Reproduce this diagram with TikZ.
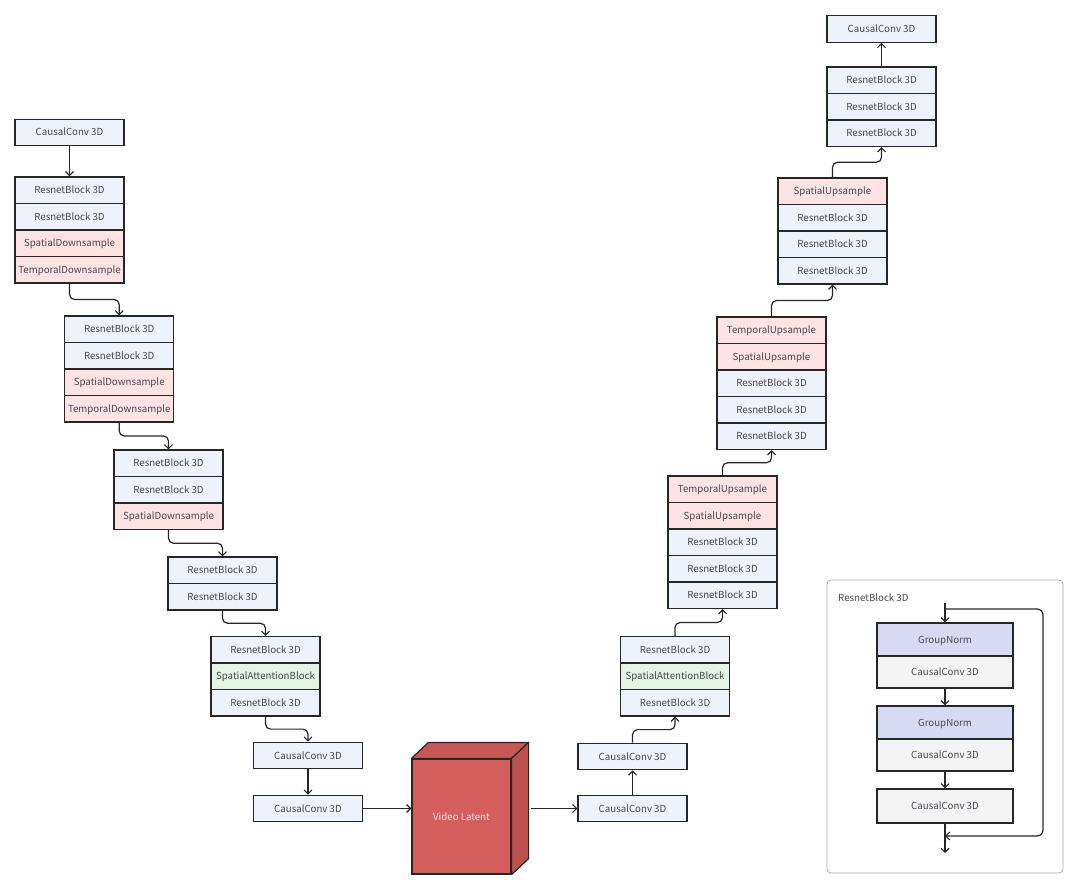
\documentclass[tikz,border=0pt]{standalone}
\usepackage{fontspec}
\setmainfont{Noto Sans CJK SC}
\usetikzlibrary{arrows.meta,calc}
\definecolor{lc}{HTML}{262626}
\definecolor{tc}{HTML}{45474F}
\definecolor{bfill}{HTML}{EEF2FB}
\definecolor{pfill}{HTML}{FDE3E3}
\definecolor{gfill}{HTML}{E3F4E4}
\definecolor{nfill}{HTML}{D6DBF3}
\definecolor{cfill}{HTML}{F4F4F4}
\definecolor{cubefront}{HTML}{D35E5B}
\definecolor{cubetop}{HTML}{C85855}
\definecolor{cubeside}{HTML}{BC524F}
\definecolor{framec}{HTML}{A8A8A8}
\begin{document}
\begin{tikzpicture}[x=1pt,y=-1pt,
  lbl/.style={font=\fontsize{9.7}{11}\selectfont, text=tc},
  row/.style={lbl, draw=lc, line width=1.1pt, minimum width=109pt, minimum height=26.5pt, inner sep=0pt,
    text height=7pt, text depth=0pt},
  blk/.style={row, fill=bfill},
  pk/.style={row, fill=pfill},
  gn/.style={row, fill=gfill},
  inrow/.style={row, minimum width=136pt},
  arr/.style={draw=lc, line width=1.2pt, -{Straight Barb[length=4pt,width=8pt]}},
  elb/.style={arr, rounded corners=5pt}]
\useasboundingbox (0,0) rectangle (1080,890);

% ---------- encoder ----------
\node[blk] (cc0) at (69.5,132.5) {CausalConv 3D};
\node[blk] (a1) at (69.5,190.25) {ResnetBlock 3D};
\node[blk] (a2) at (69.5,216.75) {ResnetBlock 3D};
\node[pk]  (a3) at (69.5,243.25) {SpatialDownsample};
\node[pk]  (a4) at (69.5,269.75) {TemporalDownsample};

\node[blk] (b1) at (119.2,329.25) {ResnetBlock 3D};
\node[blk] (b2) at (119.2,355.75) {ResnetBlock 3D};
\node[pk]  (b3) at (119.2,382.25) {SpatialDownsample};
\node[pk]  (b4) at (119.2,408.75) {TemporalDownsample};

\node[blk] (c1) at (168.5,463.25) {ResnetBlock 3D};
\node[blk] (c2) at (168.5,489.75) {ResnetBlock 3D};
\node[pk]  (c3) at (168.5,516.25) {SpatialDownsample};

\node[blk] (d1) at (222.5,570.25) {ResnetBlock 3D};
\node[blk] (d2) at (222.5,596.75) {ResnetBlock 3D};

\node[blk] (e1) at (265.5,649.75) {ResnetBlock 3D};
\node[gn]  (e2) at (265.5,676.25) {SpatialAttentionBlock};
\node[blk] (e3) at (265.5,702.75) {ResnetBlock 3D};

\node[blk] (cc1) at (308,755.5) {CausalConv 3D};
\node[blk] (cc2) at (308,808.5) {CausalConv 3D};

\draw[arr] (cc0.south) -- (a1.north);
\draw[elb] (a4.south) |- ($(a4.south)!.5!(b1.north)$) -| (b1.north);
\draw[elb] (b4.south) |- ($(b4.south)!.5!(c1.north)$) -| (c1.north);
\draw[elb] (c3.south) |- ($(c3.south)!.5!(d1.north)$) -| (d1.north);
\draw[elb] (d2.south) |- ($(d2.south)!.5!(e1.north)$) -| (e1.north);
\draw[elb] (e3.south) |- ($(e3.south)!.5!(cc1.north)$) -| (cc1.north);
\draw[arr] (cc1.south) -- (cc2.north);

% ---------- latent cube ----------
\node[lbl, draw=lc, line width=1.2pt, fill=cubefront, minimum width=99pt, minimum height=115pt, inner sep=0pt,
  text=pfill] (cube) at (461.5,816.5) {Video Latent};
\filldraw[fill=cubetop, draw=lc, line width=1.2pt, line join=round]
  (cube.north west) -- ++(17,-16) -- ($(cube.north east)+(17,-16)$) -- (cube.north east) -- cycle;
\filldraw[fill=cubeside, draw=lc, line width=1.2pt, line join=round]
  (cube.north east) -- ++(17,-16) -- ($(cube.south east)+(17,-16)$) -- (cube.south east) -- cycle;
\coordinate (cubeR) at ($(cube.east)+(19,0)$);

% ---------- decoder ----------
\node[blk] (ccr2) at (632.5,808.5) {CausalConv 3D};
\node[blk] (ccr1) at (632.5,756.5) {CausalConv 3D};

\node[blk] (f1) at (675,649.75) {ResnetBlock 3D};
\node[gn]  (f2) at (675,676.25) {SpatialAttentionBlock};
\node[blk] (f3) at (675,702.75) {ResnetBlock 3D};

\node[pk]  (g1) at (722.5,489.25) {TemporalUpsample};
\node[pk]  (g2) at (722.5,515.75) {SpatialUpsample};
\node[blk] (g3) at (722.5,542.25) {ResnetBlock 3D};
\node[blk] (g4) at (722.5,568.75) {ResnetBlock 3D};
\node[blk] (g5) at (722.5,595.25) {ResnetBlock 3D};

\node[pk]  (h1) at (771.5,330.25) {TemporalUpsample};
\node[pk]  (h2) at (771.5,356.75) {SpatialUpsample};
\node[blk] (h3) at (771.5,383.25) {ResnetBlock 3D};
\node[blk] (h4) at (771.5,409.75) {ResnetBlock 3D};
\node[blk] (h5) at (771.5,436.25) {ResnetBlock 3D};

\node[pk]  (i1) at (832.5,191.25) {SpatialUpsample};
\node[blk] (i2) at (832.5,217.75) {ResnetBlock 3D};
\node[blk] (i3) at (832.5,244.25) {ResnetBlock 3D};
\node[blk] (i4) at (832.5,270.75) {ResnetBlock 3D};

\node[blk] (j1) at (881.5,80.25) {ResnetBlock 3D};
\node[blk] (j2) at (881.5,106.75) {ResnetBlock 3D};
\node[blk] (j3) at (881.5,133.25) {ResnetBlock 3D};

\node[blk] (cct) at (881.5,29) {CausalConv 3D};

\draw[arr] (cc2.east) -- (cc2.east -| cube.west);
\draw[arr] (cubeR |- ccr2.west) -- (ccr2.west);
\draw[arr] (ccr2.north) -- (ccr1.south);
\draw[elb] (ccr1.north) |- ($(ccr1.north)!.5!(f3.south)$) -| (f3.south);
\draw[elb] (f1.north) |- ($(f1.north)!.5!(g5.south)$) -| (g5.south);
\draw[elb] (g1.north) |- ($(g1.north)!.5!(h5.south)$) -| (h5.south);
\draw[elb] (h1.north) |- ($(h1.north)!.5!(i4.south)$) -| (i4.south);
\draw[elb] (i1.north) |- ($(i1.north)!.5!(j3.south)$) -| (j3.south);
\draw[arr] (j1.north) -- (cct.south);

% ---------- inset ----------
\node[draw=framec, line width=0.8pt, rounded corners=4pt, minimum width=236pt, minimum height=293pt,
  inner sep=0pt] (frame) at (945,726.5) {};
\node[lbl, anchor=west, inner sep=0pt] (ftitle) at (838,598) {ResnetBlock 3D};

\node[inrow, fill=nfill, minimum height=33pt] (n1) at (945,639.5) {GroupNorm};
\node[inrow, fill=cfill, minimum height=32pt] (k1) at (945,672) {CausalConv 3D};
\node[inrow, fill=nfill, minimum height=33pt] (n2) at (945,722.5) {GroupNorm};
\node[inrow, fill=cfill, minimum height=32pt] (k2) at (945,755) {CausalConv 3D};
\node[inrow, fill=cfill, minimum height=34pt] (k3) at (945,806) {CausalConv 3D};

\coordinate (tin) at (945,603);
\coordinate (tout) at (945,853);
\coordinate (rs) at (945,609);
\coordinate (rr) at (1043,609);
\coordinate (re) at (945,836);
\draw[arr] (tin) -- (n1.north);
\draw[arr] (k1.south) -- (n2.north);
\draw[arr] (k2.south) -- (k3.north);
\draw[arr] (k3.south) -- (tout);
\draw[arr, rounded corners=6pt] (rs) -- (rr) |- (re);
\end{tikzpicture}
\end{document}
